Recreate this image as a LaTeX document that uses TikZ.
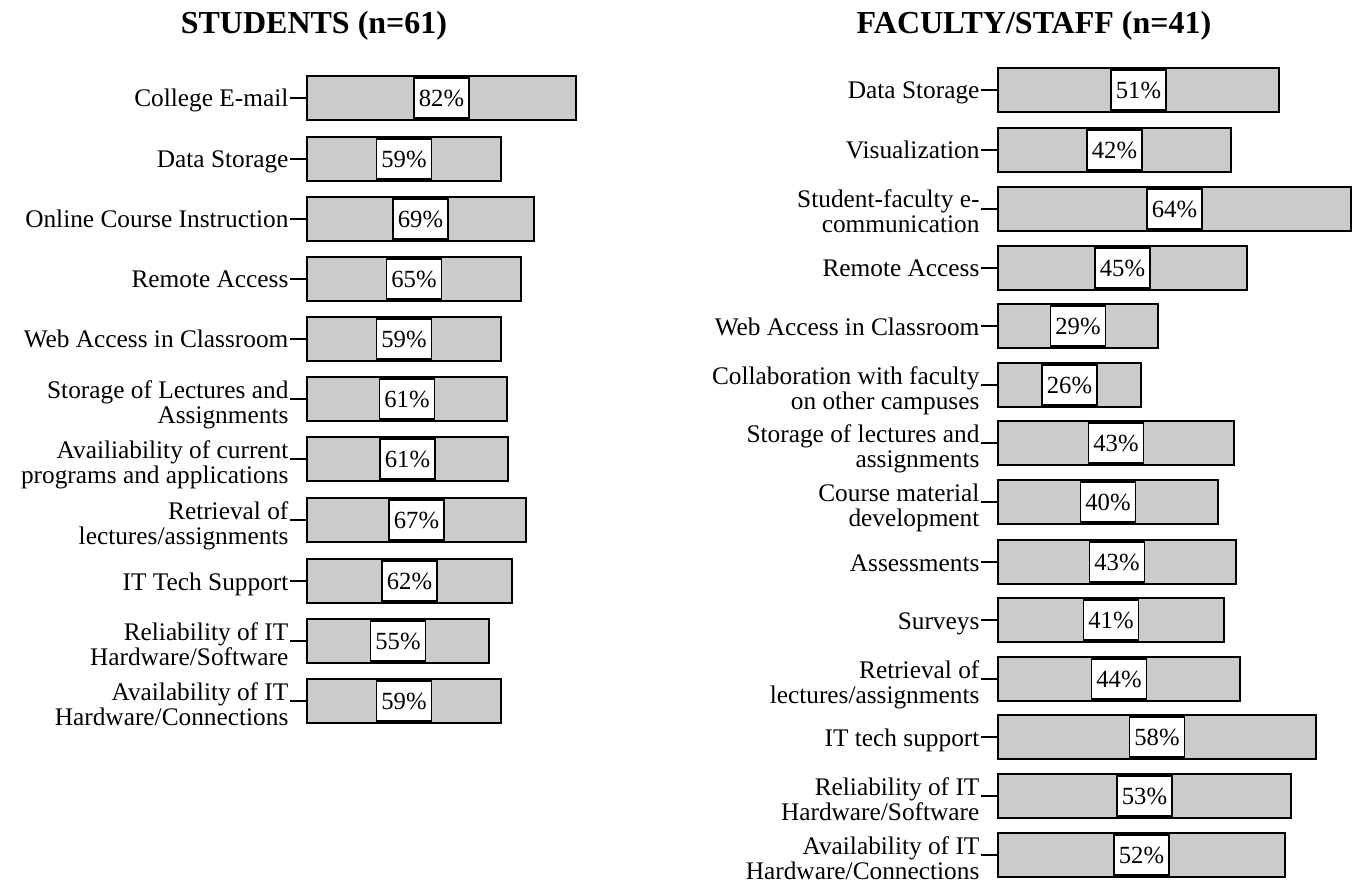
\documentclass[tikz,border=0pt]{standalone}
\usepackage{fontspec}
\setmainfont{Liberation Serif}
\definecolor{barfill}{HTML}{CBCBCB}
\begin{document}
\begin{tikzpicture}[x=0.75pt, y=-0.75pt,
        bar/.style={rectangle, draw=black, fill=barfill, line width=1.5pt, minimum width=#1*0.75pt, minimum height=33pt, inner sep=0pt, anchor=west},
        pct/.style={rectangle, draw=black, fill=white, line width=1.2pt, minimum width=41pt, minimum height=30pt, inner sep=0pt, font=\fontsize{18.5}{18.5}\selectfont},
        lbl/.style={anchor=base east, align=right, inner sep=1pt, font=\fontsize{19}{18.75}\selectfont},
        title/.style={font=\fontsize{24}{28}\selectfont\bfseries},
        tick/.style={line width=1.5pt}
    ]
        \useasboundingbox (0,0) rectangle (1357,884);

        % students
        \node[title] (stitle) at (314,26) {STUDENTS (n=61)};

        \node[bar=269] (s1) at (306,98) {};
        \node[pct] (s1p) at (s1) {82\%};
        \node[lbl] (s1l) at (290,107) {College E-mail};
        \draw[tick] (s1l.east |- s1.west) -- (s1.west);

        \node[bar=194] (s2) at (306,159) {};
        \node[pct] (s2p) at (s2) {59\%};
        \node[lbl] (s2l) at (290,168) {Data Storage};
        \draw[tick] (s2l.east |- s2.west) -- (s2.west);

        \node[bar=227] (s3) at (306,219) {};
        \node[pct] (s3p) at (s3) {69\%};
        \node[lbl] (s3l) at (290,228) {Online Course Instruction};
        \draw[tick] (s3l.east |- s3.west) -- (s3.west);

        \node[bar=214] (s4) at (306,279) {};
        \node[pct] (s4p) at (s4) {65\%};
        \node[lbl] (s4l) at (290,288) {Remote Access};
        \draw[tick] (s4l.east |- s4.west) -- (s4.west);

        \node[bar=194] (s5) at (306,339) {};
        \node[pct] (s5p) at (s5) {59\%};
        \node[lbl] (s5l) at (290,348) {Web Access in Classroom};
        \draw[tick] (s5l.east |- s5.west) -- (s5.west);

        \node[bar=200] (s6) at (306,399) {};
        \node[pct] (s6p) at (s6) {61\%};
        \node[lbl] (s6l) at (290,423) {Storage of Lectures and\\Assignments};
        \draw[tick] (s6l.east |- s6.west) -- (s6.west);

        \node[bar=201] (s7) at (306,459) {};
        \node[pct] (s7p) at (s7) {61\%};
        \node[lbl] (s7l) at (290,483) {Availiability of current\\programs and applications};
        \draw[tick] (s7l.east |- s7.west) -- (s7.west);

        \node[bar=219] (s8) at (306,520) {};
        \node[pct] (s8p) at (s8) {67\%};
        \node[lbl] (s8l) at (290,544) {Retrieval of\\lectures/assignments};
        \draw[tick] (s8l.east |- s8.west) -- (s8.west);

        \node[bar=205] (s9) at (306,581) {};
        \node[pct] (s9p) at (s9) {62\%};
        \node[lbl] (s9l) at (290,590) {IT Tech Support};
        \draw[tick] (s9l.east |- s9.west) -- (s9.west);

        \node[bar=182] (s10) at (306,641) {};
        \node[pct] (s10p) at (s10) {55\%};
        \node[lbl] (s10l) at (290,665) {Reliability of IT\\Hardware/Software};
        \draw[tick] (s10l.east |- s10.west) -- (s10.west);

        \node[bar=194] (s11) at (306,701) {};
        \node[pct] (s11p) at (s11) {59\%};
        \node[lbl] (s11l) at (290,725) {Availability of IT\\Hardware/Connections};
        \draw[tick] (s11l.east |- s11.west) -- (s11.west);

        % faculty/staff
        \node[title] (ftitle) at (1034,26) {FACULTY/STAFF (n=41)};

        \node[bar=281] (f1) at (997,90) {};
        \node[pct] (f1p) at (f1) {51\%};
        \node[lbl] (f1l) at (981,99) {Data Storage};
        \draw[tick] (f1l.east |- f1.west) -- (f1.west);

        \node[bar=233] (f2) at (997,150) {};
        \node[pct] (f2p) at (f2) {42\%};
        \node[lbl] (f2l) at (981,159) {Visualization};
        \draw[tick] (f2l.east |- f2.west) -- (f2.west);

        \node[bar=353] (f3) at (997,209) {};
        \node[pct] (f3p) at (f3) {64\%};
        \node[lbl] (f3l) at (981,233) {Student-faculty e-\\communication};
        \draw[tick] (f3l.east |- f3.west) -- (f3.west);

        \node[bar=249] (f4) at (997,268) {};
        \node[pct] (f4p) at (f4) {45\%};
        \node[lbl] (f4l) at (981,277) {Remote Access};
        \draw[tick] (f4l.east |- f4.west) -- (f4.west);

        \node[bar=160] (f5) at (997,326) {};
        \node[pct] (f5p) at (f5) {29\%};
        \node[lbl] (f5l) at (981,335) {Web Access in Classroom};
        \draw[tick] (f5l.east |- f5.west) -- (f5.west);

        \node[bar=143] (f6) at (997,385) {};
        \node[pct] (f6p) at (f6) {26\%};
        \node[lbl] (f6l) at (981,409) {Collaboration with faculty\\on other campuses};
        \draw[tick] (f6l.east |- f6.west) -- (f6.west);

        \node[bar=236] (f7) at (997,443) {};
        \node[pct] (f7p) at (f7) {43\%};
        \node[lbl] (f7l) at (981,467) {Storage of lectures and\\assignments};
        \draw[tick] (f7l.east |- f7.west) -- (f7.west);

        \node[bar=220] (f8) at (997,502) {};
        \node[pct] (f8p) at (f8) {40\%};
        \node[lbl] (f8l) at (981,526) {Course material\\development};
        \draw[tick] (f8l.east |- f8.west) -- (f8.west);

        \node[bar=238] (f9) at (997,562) {};
        \node[pct] (f9p) at (f9) {43\%};
        \node[lbl] (f9l) at (981,571) {Assessments};
        \draw[tick] (f9l.east |- f9.west) -- (f9.west);

        \node[bar=226] (f10) at (997,620) {};
        \node[pct] (f10p) at (f10) {41\%};
        \node[lbl] (f10l) at (981,629) {Surveys};
        \draw[tick] (f10l.east |- f10.west) -- (f10.west);

        \node[bar=242] (f11) at (997,679) {};
        \node[pct] (f11p) at (f11) {44\%};
        \node[lbl] (f11l) at (981,703) {Retrieval of\\lectures/assignments};
        \draw[tick] (f11l.east |- f11.west) -- (f11.west);

        \node[bar=318] (f12) at (997,737) {};
        \node[pct] (f12p) at (f12) {58\%};
        \node[lbl] (f12l) at (981,746) {IT tech support};
        \draw[tick] (f12l.east |- f12.west) -- (f12.west);

        \node[bar=293] (f13) at (997,796) {};
        \node[pct] (f13p) at (f13) {53\%};
        \node[lbl] (f13l) at (981,820) {Reliability of IT\\Hardware/Software};
        \draw[tick] (f13l.east |- f13.west) -- (f13.west);

        \node[bar=287] (f14) at (997,855) {};
        \node[pct] (f14p) at (f14) {52\%};
        \node[lbl] (f14l) at (981,879) {Availability of IT\\Hardware/Connections};
        \draw[tick] (f14l.east |- f14.west) -- (f14.west);
    \end{tikzpicture}
\end{document}
